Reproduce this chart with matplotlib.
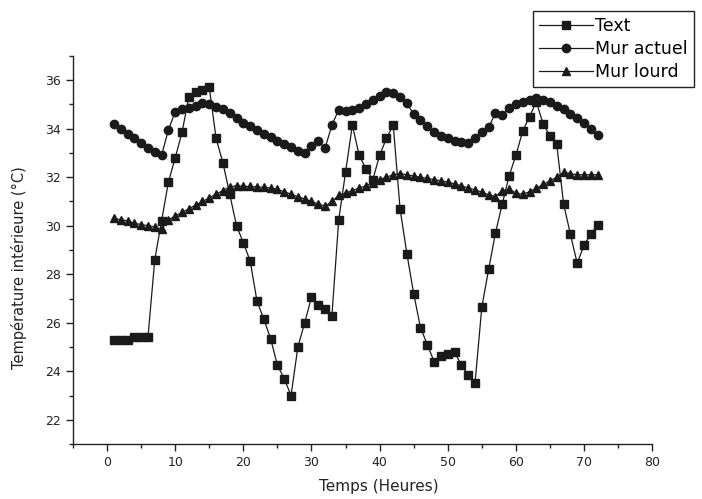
# Indoor temperature over 72 hours for three wall configurations
import numpy as np
import matplotlib
matplotlib.use('Agg')
import matplotlib.pyplot as plt
import matplotlib as mpl

# Hours (one reading per hour)
hours = np.arange(1, 73)

# Temperatures (°C)
text_temp = [25.3, 25.3, 25.3, 25.4, 25.4, 25.4, 28.6, 30.2, 31.8, 32.8,
             33.85, 35.3, 35.5, 35.6, 35.7, 33.6, 32.6, 31.3, 30.0, 29.3,
             28.55, 26.9, 26.15, 25.35, 24.25, 23.7, 23.0, 25.0, 26.0, 27.05,
             26.75, 26.55, 26.3, 30.25, 32.2, 34.15, 32.9, 32.35, 31.9, 32.9,
             33.6, 34.15, 30.7, 28.85, 27.2, 25.8, 25.1, 24.4, 24.65, 24.7,
             24.8, 24.25, 23.85, 23.5, 26.65, 28.2, 29.7, 30.9, 32.05, 32.9,
             33.9, 34.5, 35.1, 34.2, 33.7, 33.35, 30.9, 29.65, 28.45, 29.2,
             29.65, 30.05]

mur_actuel = [34.2, 34.0, 33.8, 33.6, 33.4, 33.2, 33.05, 32.9, 33.95, 34.7,
              34.8, 34.85, 34.95, 35.05, 35.0, 34.9, 34.8, 34.65, 34.45, 34.25,
              34.1, 33.95, 33.8, 33.65, 33.5, 33.35, 33.25, 33.1, 33.0, 33.3,
              33.48, 33.2, 34.15, 34.78, 34.72, 34.75, 34.85, 35.0, 35.2, 35.35,
              35.5, 35.45, 35.3, 35.05, 34.6, 34.37, 34.1, 33.85, 33.7, 33.6,
              33.5, 33.45, 33.42, 33.6, 33.85, 34.05, 34.65, 34.55, 34.85, 35.0,
              35.1, 35.2, 35.27, 35.2, 35.1, 34.95, 34.8, 34.62, 34.42, 34.22,
              34.0, 33.75]

mur_lourd = [30.3, 30.25, 30.2, 30.1, 30.05, 30.0, 29.95, 29.85, 30.25, 30.4,
             30.55, 30.7, 30.85, 31.0, 31.15, 31.3, 31.45, 31.6, 31.65, 31.62,
             31.62, 31.6, 31.58, 31.55, 31.5, 31.4, 31.3, 31.2, 31.1, 31.0,
             30.9, 30.8, 31.0, 31.25, 31.35, 31.45, 31.55, 31.65, 31.75, 31.9,
             32.0, 32.1, 32.15, 32.1, 32.05, 32.0, 31.95, 31.9, 31.85, 31.8,
             31.72, 31.65, 31.55, 31.48, 31.38, 31.28, 31.2, 31.45, 31.5, 31.35,
             31.3, 31.4, 31.55, 31.7, 31.85, 32.0, 32.2, 32.15, 32.1, 32.1,
             32.1, 32.1]

fig = plt.figure(figsize=(7.02, 4.99), dpi=100)
ax = fig.add_axes([0.104, 0.110, 0.825, 0.778])

style = dict(color='#1a1a1a', linewidth=0.9, markersize=6)
ax.plot(hours, text_temp, marker='s', label='Text', **style)
ax.plot(hours, mur_actuel, marker='o', label='Mur actuel', **style)
ax.plot(hours, mur_lourd, marker='^', label='Mur lourd', **style)

ax.set_xlim(-5, 80)
ax.set_ylim(21, 37)
ax.xaxis.set_major_locator(mpl.ticker.MultipleLocator(10))
ax.xaxis.set_minor_locator(mpl.ticker.MultipleLocator(5))
ax.yaxis.set_minor_locator(mpl.ticker.MultipleLocator(1))
ax.set_yticks([22, 24, 26, 28, 30, 32, 34, 36])

for side in ['top', 'right']:
    ax.spines[side].set_visible(False)
for side in ['left', 'bottom']:
    ax.spines[side].set_linewidth(1.0)
    ax.spines[side].set_color('#222222')

ax.tick_params(which='major', direction='out', length=5, width=1.0,
               labelsize=9, colors='#222222')
ax.tick_params(which='minor', direction='out', length=3, width=1.0,
               colors='#222222')

ax.set_xlabel('Temps (Heures)', fontsize=11, color='#222222')
ax.xaxis.set_label_coords(0.528, -0.09)
ax.set_ylabel('Température intérieure (°C)', fontsize=10.5, color='#222222')
ax.yaxis.set_label_coords(-0.079, 0.454)

leg = fig.legend(loc='upper left', bbox_to_anchor=(0.759, 0.978),
                 fancybox=False, edgecolor='#222222', framealpha=1,
                 fontsize=12.5, handlelength=3.1, borderpad=0.35,
                 labelspacing=0.28, handletextpad=0.15, borderaxespad=0)
leg.get_frame().set_linewidth(1.0)

fig.savefig('out.png', dpi=100)
